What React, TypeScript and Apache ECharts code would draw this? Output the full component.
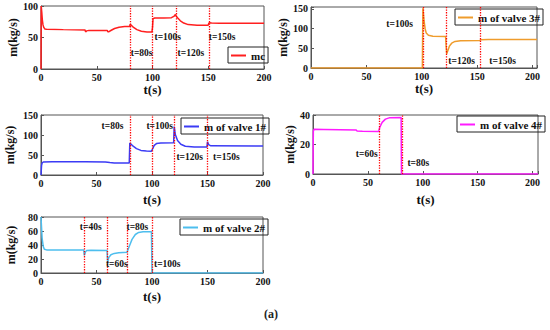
import React, { useEffect, useRef } from "react";
import * as echarts from "echarts";

const FONT = "'Liberation Serif', 'Times New Roman', serif";

// ---- data (t in s, m in kg/s) ----
const mcData = [
  [0, 0], [0.2, 100], [0.7, 90], [1.2, 78], [1.8, 70], [2.5, 66], [3.5, 63.5], [5, 63], [20, 62.5], [39.5, 62],
  [40, 59], [41, 60.5], [43, 61.3], [50, 61.3], [59.5, 61], [60, 59], [61, 59.3], [63, 61.5], [66, 64.3],
  [70, 66.3], [75, 67.3], [79.5, 67.5], [80, 71], [81, 69.5], [83, 66], [86, 62.5], [90, 60], [95, 58.8],
  [99.5, 58.7], [100, 66], [100.5, 80], [102, 81], [110, 81], [117, 81.5], [119.5, 84], [120.3, 86.5],
  [122, 82], [125, 76.5], [128, 73], [132, 70.5], [140, 69.6], [150, 69.6], [150.5, 72.5], [151, 73.5],
  [153, 73], [160, 72.6], [200, 72.5],
];
const valve3Data = [
  [0, 0], [100.5, 0], [101, 152], [102, 122], [103, 100], [104, 89], [106, 83], [110, 80.5], [121.5, 80],
  [122, 55], [122.5, 36], [123.5, 44], [125, 56], [127, 63], [130, 67.5], [135, 69.5], [152.5, 70],
  [153.5, 72], [160, 72.5], [204, 72.5],
];
const valve1Data = [
  [0, 0], [0.5, 24], [1, 30], [2, 32.5], [10, 33], [40, 33], [58, 32.5], [62, 31], [66, 30], [79.5, 30],
  [80, 80], [81, 77.5], [83, 72], [86, 66], [90, 61.5], [95, 59.8], [99.5, 59.5], [100.5, 65], [102, 74],
  [104, 78.5], [108, 80], [119.5, 80.5], [120, 121], [121, 101], [123, 86], [126, 77], [130, 72], [138, 70],
  [149.5, 70], [150, 83], [151, 76], [153, 73], [200, 72.5],
];
const valve4Data = [
  [0, 0], [0.3, 29], [1, 30.3], [10, 30.2], [39.5, 29.8], [40, 29.2], [45, 29], [59.5, 28.8], [60, 29.5],
  [61, 32], [63, 35], [66, 37.2], [70, 38.2], [80.3, 38.3], [80.6, 0], [205, 0],
];
const valve2Data = [
  [0, 80], [0.5, 65], [1, 50], [2, 38], [3, 34], [5, 33], [38.5, 33], [39, 25], [40, 30], [41, 32],
  [45, 32.5], [59.5, 32], [60, 15], [61, 22], [63, 26], [66, 28], [70, 29], [77.5, 29.5], [78, 32],
  [80, 40], [82, 48], [85, 55], [88, 58], [92, 59], [99.5, 59], [100, 0], [200, 0],
];

const mcMarks = [80, 100, 121, 151];
const valve3Marks = [101, 122, 153];
const valve1Marks = [80, 100, 120, 150];
const valve4Marks = [60, 81];
const valve2Marks = [39, 60, 78, 100];

const mcLabels = [["t=80s", 80.5, 25], ["t=100s", 101.8, 51], ["t=120s", 122.5, 25], ["t=150s", 150.5, 51]];
const valve3Labels = [["t=100s", 68, 111], ["t=120s", 124, 18.6], ["t=150s", 161, 18.6]];
const valve1Labels = [["t=80s", 54.6, 122], ["t=100s", 95, 122], ["t=120s", 122, 46], ["t=150s", 155, 46]];
const valve4Labels = [["t=60s", 39, 13.6], ["t=80s", 86, 7.7]];
const valve2Labels = [["t=40s", 35, 66], ["t=60s", 58.5, 12.4], ["t=80s", 77, 66], ["t=100s", 101.8, 12.4]];

const panels = [
  { name: "mc", data: mcData, color: "#ff1f1f", marks: mcMarks, labels: mcLabels,
    grid: { left: 41, top: 6, width: 223, height: 63 }, xMax: 200, yMax: 100, yInt: 50,
    xGap: 13, yGap: 22, legend: { left: 228, top: 47 } },
  { name: "m of valve 3#", data: valve3Data, color: "#ef9c2c", marks: valve3Marks, labels: valve3Labels,
    grid: { left: 311, top: 7, width: 226, height: 61 }, xMax: 204, yMax: 155, yInt: 50,
    xGap: 13, yGap: 17, legend: { left: 455, top: 9 } },
  { name: "m of valve 1#", data: valve1Data, color: "#3b3bf5", marks: valve1Marks, labels: valve1Labels,
    grid: { left: 41, top: 115, width: 222, height: 60 }, xMax: 200, yMax: 150, yInt: 50,
    xGap: 18, yGap: 25, legend: { left: 181, top: 118 } },
  { name: "m of valve 4#", data: valve4Data, color: "#ff1aff", marks: valve4Marks, labels: valve4Labels,
    grid: { left: 313, top: 115, width: 225, height: 59 }, xMax: 205, yMax: 40, yInt: 20,
    xGap: 19, yGap: 16, legend: { left: 457, top: 116 } },
  { name: "m of valve 2#", data: valve2Data, color: "#4dbeee", marks: valve2Marks, labels: valve2Labels,
    grid: { left: 41, top: 217, width: 222, height: 56 }, xMax: 200, yMax: 80, yInt: 20,
    xGap: 17, yGap: 24, legend: { left: 180, top: 219 } },
];

export default function App() {
  const ref = useRef<HTMLDivElement>(null);
  useEffect(() => {
    if (!ref.current) return;
    const chart = echarts.init(ref.current, undefined, { renderer: "svg" });
    const axisText = { fontFamily: FONT, fontWeight: "bold" as const, fontSize: 10, color: "#111" };
    const option: any = {
      animation: false,
      backgroundColor: "#fff",
      grid: panels.map((p) => ({ ...p.grid, show: true, borderColor: "#555", borderWidth: 1, backgroundColor: "transparent" })),
      xAxis: panels.map((p, i) => ({
        type: "value", gridIndex: i, min: 0, max: p.xMax, interval: 50,
        name: "t(s)", nameLocation: "middle", nameGap: p.xGap,
        nameTextStyle: { fontFamily: FONT, fontWeight: "bold", fontSize: 13, color: "#111" },
        axisLine: { show: true, lineStyle: { color: "#555" } },
        axisTick: { show: true, inside: true, length: 3, lineStyle: { color: "#555" } },
        axisLabel: { ...axisText, margin: 3, formatter: (v: number) => (v % 50 === 0 ? String(v) : "") },
        splitLine: { show: false },
      })),
      yAxis: panels.map((p, i) => ({
        type: "value", gridIndex: i, min: 0, max: p.yMax, interval: p.yInt,
        name: "m(kg/s)", nameLocation: "middle", nameGap: p.yGap, nameRotate: 90,
        nameTextStyle: { fontFamily: FONT, fontWeight: "bold", fontSize: 12, color: "#111" },
        axisLine: { show: true, lineStyle: { color: "#555" } },
        axisTick: { show: true, inside: true, length: 3, lineStyle: { color: "#555" } },
        axisLabel: { ...axisText, margin: 3, formatter: (v: number) => (v % p.yInt === 0 ? String(v) : "") },
        splitLine: { show: false },
      })),
      legend: panels.map((p) => ({
        data: [p.name], left: p.legend.left, top: p.legend.top, orient: "horizontal",
        borderColor: "#222", borderWidth: 1, padding: [3, 3, 2, 3], itemWidth: 15, itemHeight: 2,
        icon: "rect", backgroundColor: "transparent",
        textStyle: { fontFamily: FONT, fontWeight: "bold", fontSize: 11, color: "#111" },
      })),
      series: panels.map((p, i) => ({
        type: "line", name: p.name, xAxisIndex: i, yAxisIndex: i, data: p.data,
        symbol: "none", smooth: false,
        lineStyle: { color: p.color, width: 1.5 }, itemStyle: { color: p.color },
        markLine: {
          silent: true, symbol: "none", label: { show: false },
          lineStyle: { color: "#ff0000", type: "dotted", width: 1.3 },
          data: p.marks.map((m) => ({ xAxis: m })),
        },
        markPoint: {
          silent: true, symbol: "circle", symbolSize: 0,
          data: p.labels.map((l) => ({
            coord: [l[1], l[2]], value: l[0],
            label: { show: true, position: "right", distance: 0, formatter: l[0] as string,
              fontFamily: FONT, fontWeight: "bold", fontSize: 9.5, color: "#111" },
          })),
        },
      })),
      graphic: [
        { type: "text", left: 264, top: 308,
          style: { text: "(a)", fontFamily: FONT, fontWeight: "bold", fontSize: 12, fill: "#222" } },
      ],
    };
    chart.setOption(option);
    return () => chart.dispose();
  }, []);
  return <div ref={ref} style={{ position: "fixed", left: 0, top: 0, width: 550, height: 330 }} />;
}
